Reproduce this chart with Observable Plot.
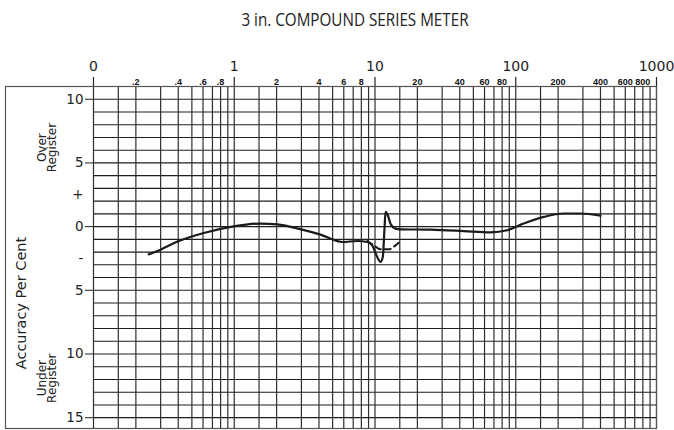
<!DOCTYPE html>
<html><head><meta charset="utf-8">
<script src="https://cdn.jsdelivr.net/npm/d3@7"></script>
<script src="https://cdn.jsdelivr.net/npm/@observablehq/plot@0.6"></script>
<style>
body{margin:0;background:#fff;width:674px;height:430px;overflow:hidden;position:relative;font-family:"DejaVu Sans",sans-serif}
#title{position:absolute;left:0;top:8px;width:710px;text-align:center;font-family:"Open Sans",sans-serif;font-size:17.5px;color:#222;line-height:22px;transform:scaleX(0.87);transform-origin:355px 0}
#chart{position:absolute;left:0;top:40px}
</style></head><body>
<div id="title">3 in. COMPOUND SERIES METER</div>
<div id="chart"></div>
<script>
// Solid curve (load in amperes, accuracy in per cent)
const solidLoad = [0.247, 0.299, 0.404, 0.608, 0.99, 1.54, 2.02, 3.04, 4.10, 5.85, 7.48, 8.81, 9.55, 10.37, 10.94, 11.36, 11.67, 11.88, 12.33, 12.89, 13.99, 15.17, 24.8, 42.8, 66.2, 86.9, 114, 158, 219, 288, 400];
const solidAcc  = [-2.18, -1.81, -1.13, -0.50, 0.02, 0.24, 0.18, -0.24, -0.63, -1.21, -1.13, -1.21, -1.47, -2.39, -2.78, -2.39, -0.23, 1.15, 0.89, 0.23, -0.16, -0.21, -0.24, -0.35, -0.45, -0.29, 0.24, 0.76, 1.03, 1.03, 0.86];
// Dashed curve
const dashLoad = [8.81, 9.81, 10.94, 12.54, 13.99, 15.17];
const dashAcc  = [-1.13, -1.47, -1.78, -1.78, -1.47, -1.13];

// Axis labels
const majorTicks = [0.1, 1, 10, 100, 1000];
const majorLabels = ["0", "1", "10", "100", "1000"];
const minorTicks = [0.2, 0.4, 0.6, 0.8, 2, 4, 6, 8, 20, 40, 60, 80, 200, 400, 600, 800];
const minorLabels = [".2", ".4", ".6", ".8", "2", "4", "6", "8", "20", "40", "60", "80", "200", "400", "600", "800"];
const yTickValues = [10, 5, 2.5, 0, -2.5, -5, -10, -15];
const yTickLabels = ["10", "5", "+", "0", "-", "5", "10", "15"];
const yMajorTicks = [10, 5, 0, -5, -10, -15];
const gridMultipliers = [1, 1.5, 2, 3, 4, 5, 6, 7, 8, 9];
const decades = [0.1, 1, 10, 100];

const Y_TOP = 11, Y_BOT = -15.85, Y_MAJOR_EXT = 11.7;
const X_MIN = 0.1, X_MAX = 1000, X_TICK = 0.0877;

const gridX = decades.flatMap(d => gridMultipliers.map(m => +(d * m).toPrecision(3))).concat([X_MAX]);
const gridY = d3.range(-15, 12);

const solid = solidLoad.map((x, i) => ({x, y: solidAcc[i]}));
const dashed = dashLoad.map((x, i) => ({x, y: dashAcc[i]}));
const yTicks = yTickValues.map((v, i) => ({v, t: yTickLabels[i]}));
const majors = majorTicks.map((v, i) => ({v, t: majorLabels[i]}));
const minors = minorTicks.map((v, i) => ({v, t: minorLabels[i]}));

const ink = "#222";
const plot = Plot.plot({
  width: 674,
  height: 390,
  marginLeft: 5,
  marginRight: 18,
  marginTop: 46,
  marginBottom: 2,
  style: {fontFamily: "'DejaVu Sans', sans-serif", background: "white", color: ink},
  x: {type: "log", domain: [X_MIN, X_MAX], range: [93, 656], axis: null},
  y: {domain: [Y_BOT, Y_TOP], range: [388, 46], axis: null},
  marks: [
    Plot.ruleY(gridY, {x1: X_MIN, x2: X_MAX, stroke: "#1e1e1e", strokeWidth: 1.1}),
    Plot.ruleX(gridX, {y1: Y_BOT, y2: Y_TOP, stroke: "#2e2e2e", strokeWidth: 1.2}),
    Plot.ruleX(majorTicks, {y1: Y_TOP, y2: Y_MAJOR_EXT, stroke: ink, strokeWidth: 1.2}),
    Plot.ruleY(yMajorTicks, {x1: X_TICK, x2: X_MIN, stroke: ink, strokeWidth: 1}),
    Plot.frame({stroke: "#555", strokeWidth: 1.2}),
    Plot.text(yTicks, {y: "v", x: X_TICK, text: "t", textAnchor: "end", dx: -2, fontSize: 13.5, fill: ink}),
    Plot.text(majors, {x: "v", text: "t", frameAnchor: "top", dy: -25, fontSize: 14, fill: ink}),
    Plot.text(minors, {x: "v", text: "t", frameAnchor: "top", dy: -8, fontSize: 9, fontWeight: "bold", fontFamily: "'Liberation Sans', sans-serif", fill: "#111"}),
    Plot.text(["Accuracy Per Cent"], {frameAnchor: "left", textAnchor: "middle", dx: 16, y: -6.0, rotate: -90, fontSize: 14.5, fill: ink}),
    Plot.text(["Over\nRegister"], {frameAnchor: "left", textAnchor: "middle", dx: 42, y: 6.2, rotate: -90, fontSize: 12, lineHeight: 0.85, fill: ink}),
    Plot.text(["Under\nRegister"], {frameAnchor: "left", textAnchor: "middle", dx: 42, y: -11.9, rotate: -90, fontSize: 12, lineHeight: 0.85, fill: ink}),
    Plot.line(dashed, {x: "x", y: "y", curve: "monotone-x", stroke: "#1a1a1a", strokeWidth: 2, strokeDasharray: "6,4"}),
    Plot.line(solid, {x: "x", y: "y", curve: "monotone-x", stroke: "#1a1a1a", strokeWidth: 2.2})
  ]
});
document.getElementById("chart").append(plot);
</script>
</body></html>
